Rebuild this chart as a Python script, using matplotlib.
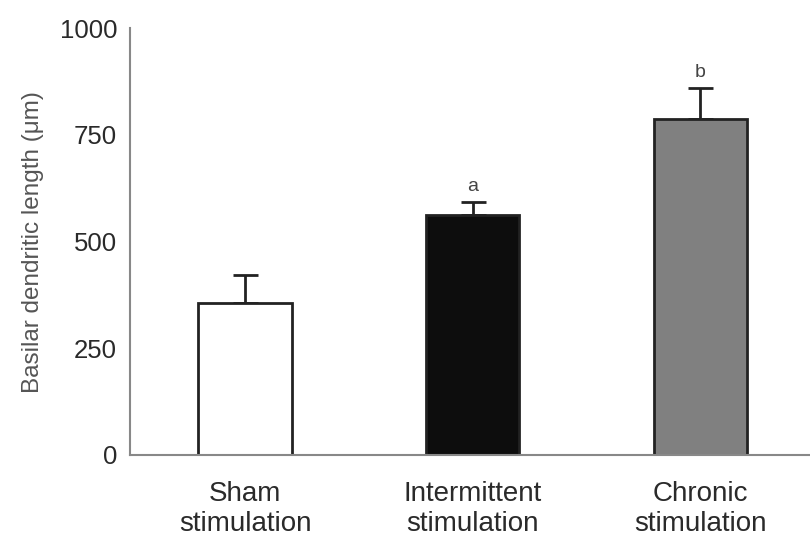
import matplotlib
matplotlib.use("Agg")
import matplotlib.pyplot as plt

plt.rcParams['font.family'] = ['Liberation Sans', 'DejaVu Sans']

# Data
groups = ['Sham\nstimulation', 'Intermittent\nstimulation', 'Chronic\nstimulation']
means = [357, 563, 788]
errors = [64, 30, 73]
letters = ['', 'a', 'b']
fills = ['white', '#0d0d0d', '#808080']
yticks = [0, 250, 500, 750, 1000]


def make_chart():
    fig = plt.figure(figsize=(8.1, 5.46), dpi=100)
    ax = fig.add_axes([0.160, 0.167, 0.845, 0.781])

    x = list(range(len(groups)))
    ax.bar(x, means, width=0.41, color=fills, edgecolor='#222222',
           linewidth=2.0, zorder=2)
    ax.errorbar(x, means, yerr=[[0] * len(errors), errors], fmt='none',
                ecolor='#222222', elinewidth=2.0, capsize=9, capthick=2.0,
                zorder=1)

    for xi, m, e, lab in zip(x, means, errors, letters):
        if lab:
            ax.text(xi, m + e + 16, lab, ha='center', va='bottom',
                    fontsize=14, color='#444444')

    ax.set_xlim(-0.507, 2.5)
    ax.set_ylim(0, 1000)
    ax.set_yticks(yticks)
    ax.set_xticks(x)
    ax.set_xticklabels(groups, fontsize=20, color='#2a2a2a', linespacing=1.2)
    ax.tick_params(axis='y', labelsize=18.5, labelcolor='#2a2a2a', length=0, pad=9)
    ax.tick_params(axis='x', length=0, pad=19)
    ax.set_ylabel('Basilar dendritic length (μm)', fontsize=17.5,
                  color='#555555', labelpad=11)

    for side in ('top', 'right'):
        ax.spines[side].set_visible(False)
    for side in ('left', 'bottom'):
        ax.spines[side].set_color('#888888')
        ax.spines[side].set_linewidth(1.5)

    fig.savefig('out.png', dpi=100, facecolor='white')
    plt.close(fig)


if __name__ == "__main__":
    make_chart()
